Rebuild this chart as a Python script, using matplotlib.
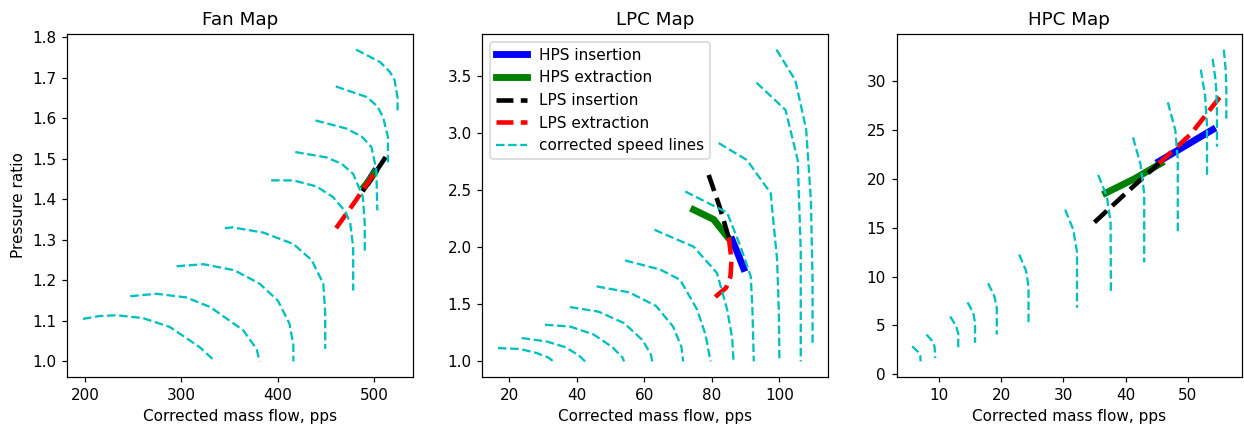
import matplotlib
matplotlib.use("Agg")
import matplotlib.pyplot as plt

# ---------------- Fan map data ----------------
fan_speed_w = [
    [198, 215, 233, 260, 288, 319, 335],
    [247, 274, 305, 330, 364, 378, 381],
    [295, 323, 355, 381, 400, 412, 416, 416],
    [345, 353, 385, 416, 435, 447, 449, 449],
    [393, 416, 440, 457, 470, 475, 478, 478],
    [418, 450, 466, 478, 488, 490, 490],
    [439, 471, 487, 497, 502, 503],
    [460, 492, 503, 509, 514, 514],
    [481, 506, 516, 521, 524, 524],
]
fan_speed_pr = [
    [1.105, 1.112, 1.114, 1.107, 1.085, 1.035, 1.000],
    [1.161, 1.167, 1.158, 1.134, 1.077, 1.030, 1.000],
    [1.235, 1.240, 1.225, 1.192, 1.150, 1.093, 1.040, 1.000],
    [1.329, 1.331, 1.318, 1.290, 1.250, 1.192, 1.120, 1.031],
    [1.447, 1.447, 1.432, 1.406, 1.370, 1.340, 1.282, 1.175],
    [1.517, 1.504, 1.488, 1.463, 1.406, 1.340, 1.270],
    [1.595, 1.575, 1.555, 1.529, 1.472, 1.373],
    [1.679, 1.653, 1.630, 1.603, 1.554, 1.492],
    [1.770, 1.739, 1.715, 1.694, 1.650, 1.620],
]
fan_hps_ins_w = [494, 500]
fan_hps_ins_pr = [1.445, 1.468]
fan_hps_ext_w = [489.6, 495, 499.9]
fan_hps_ext_pr = [1.432, 1.448, 1.465]
fan_lps_ins_w = [487.8, 500, 512]
fan_lps_ins_pr = [1.420, 1.463, 1.506]
fan_lps_ext_w = [460.3, 480, 499.9]
fan_lps_ext_pr = [1.329, 1.395, 1.465]

# ---------------- LPC map data ----------------
lpc_speed_w = [
    [16.7, 23.2, 28.1, 31.5, 33.1],
    [23.7, 31.1, 36.5, 40.5, 42.5],
    [30.6, 38.0, 45.0, 50.5, 53.5, 54.0],
    [38.0, 46.5, 54.0, 59.5, 62.0, 62.3],
    [45.9, 55.5, 63.5, 68.5, 71.0, 71.5],
    [54.3, 64.7, 70.6, 75.6, 78.1, 79.6],
    [63.0, 74.6, 81.5, 84.5, 86.0, 86.4],
    [72.1, 84.5, 88.5, 91.5, 92.0, 92.4],
    [82.0, 90.4, 97.4, 99.3, 99.8, 100.0],
    [93.2, 101.8, 105.4, 106.3, 106.3],
    [99.1, 104.7, 107.9, 109.3, 109.8, 109.8],
]
lpc_speed_pr = [
    [1.111, 1.103, 1.068, 1.030, 0.994],
    [1.199, 1.169, 1.120, 1.050, 0.994],
    [1.316, 1.300, 1.230, 1.120, 1.030, 0.994],
    [1.471, 1.430, 1.330, 1.180, 1.050, 0.994],
    [1.652, 1.600, 1.480, 1.300, 1.120, 0.994],
    [1.880, 1.800, 1.710, 1.450, 1.230, 0.994],
    [2.149, 2.000, 1.770, 1.450, 1.200, 0.994],
    [2.485, 2.300, 2.000, 1.740, 1.450, 0.994],
    [2.910, 2.760, 2.470, 1.886, 1.450, 0.994],
    [3.440, 3.200, 2.760, 1.970, 0.994],
    [3.730, 3.460, 3.030, 2.410, 1.700, 1.140],
]
lpc_hps_ins_w = [86.0, 87.8, 89.4]
lpc_hps_ins_pr = [2.06, 1.93, 1.81]
lpc_hps_ext_w = [74.6, 80.5, 84.5]
lpc_hps_ext_pr = [2.325, 2.24, 2.09]
lpc_lps_ins_w = [79.05, 82.3, 85.0]
lpc_lps_ins_pr = [2.63, 2.35, 2.08]
lpc_lps_ext_w = [85.0, 85.8, 85.5, 84.2, 81.0]
lpc_lps_ext_pr = [2.08, 1.886, 1.74, 1.64, 1.56]

# ---------------- HPC map data ----------------
hpc_speed_w = [
    [5.7, 6.6, 7.0, 7.05],
    [8.0, 8.9, 9.3, 9.4],
    [11.8, 12.7, 13.1, 13.1],
    [14.6, 15.5, 15.8, 15.8],
    [17.9, 18.9, 19.3, 19.3],
    [22.9, 24.0, 24.4, 24.4],
    [30.3, 31.6, 32.2, 32.2],
    [35.6, 37.0, 37.6, 37.65],
    [41.2, 42.4, 43.0, 43.0],
    [46.8, 48.0, 48.4, 48.4],
    [52.1, 52.8, 53.1, 53.1],
    [54.0, 54.5, 54.7, 54.7],
    [55.8, 56.1, 56.2, 56.2],
]
hpc_speed_pr = [
    [2.85, 2.3, 1.9, 1.3],
    [4.05, 3.4, 2.8, 1.65],
    [5.9, 5.0, 4.2, 2.7],
    [7.35, 6.3, 5.3, 3.2],
    [9.3, 8.0, 6.8, 4.05],
    [12.25, 10.6, 9.0, 5.07],
    [16.85, 14.8, 12.5, 6.8],
    [20.4, 18.2, 15.5, 8.3],
    [24.25, 21.5, 18.5, 11.45],
    [27.85, 25.0, 22.0, 14.45],
    [31.2, 28.5, 25.5, 20.3],
    [32.3, 30.0, 27.5, 23.3],
    [33.25, 31.2, 29.5, 26.15],
]
hpc_hps_ins_w = [45.4, 54.0]
hpc_hps_ins_pr = [21.8, 25.05]
hpc_hps_ext_w = [36.8, 41.4, 45.7]
hpc_hps_ext_pr = [18.55, 20.0, 21.6]
hpc_lps_ins_w = [35.0, 40.5, 45.4]
hpc_lps_ins_pr = [15.55, 18.8, 21.6]
hpc_lps_ext_w = [45.4, 50.5, 55.25]
hpc_lps_ext_pr = [21.6, 24.6, 28.45]

W, H = 1244, 429
DPI = 110
fig = plt.figure(figsize=(W / DPI, H / DPI), dpi=DPI)


def make_axes(left_px, right_px):
    return fig.add_axes([left_px / W, (H - 377) / H,
                         (right_px - left_px) / W, 343 / H])


def draw(ax, speed_w, speed_pr, hi_w, hi_pr, he_w, he_pr, li_w, li_pr, le_w, le_pr):
    ax.plot(hi_w, hi_pr, color='b', lw=4.5, label='HPS insertion')
    ax.plot(he_w, he_pr, color='g', lw=4.5, label='HPS extraction')
    ax.plot(li_w, li_pr, color='k', lw=3, ls='--', label='LPS insertion')
    ax.plot(le_w, le_pr, color='r', lw=3, ls='--', label='LPS extraction')
    for i, (w, pr) in enumerate(zip(speed_w, speed_pr)):
        ax.plot(w, pr, color='c', lw=1.5, ls='--',
                label='corrected speed lines' if i == 0 else '_nolegend_')
    ax.set_xlabel('Corrected mass flow, pps')


ax1 = make_axes(67.3, 413.3)
draw(ax1, fan_speed_w, fan_speed_pr, fan_hps_ins_w, fan_hps_ins_pr,
     fan_hps_ext_w, fan_hps_ext_pr, fan_lps_ins_w, fan_lps_ins_pr,
     fan_lps_ext_w, fan_lps_ext_pr)
ax1.set_title('Fan Map')
ax1.set_ylabel('Pressure ratio')

ax2 = make_axes(482.3, 828.3)
draw(ax2, lpc_speed_w, lpc_speed_pr, lpc_hps_ins_w, lpc_hps_ins_pr,
     lpc_hps_ext_w, lpc_hps_ext_pr, lpc_lps_ins_w, lpc_lps_ins_pr,
     lpc_lps_ext_w, lpc_lps_ext_pr)
ax2.set_title('LPC Map')
ax2.legend(loc='upper left')

ax3 = make_axes(896.5, 1242)
draw(ax3, hpc_speed_w, hpc_speed_pr, hpc_hps_ins_w, hpc_hps_ins_pr,
     hpc_hps_ext_w, hpc_hps_ext_pr, hpc_lps_ins_w, hpc_lps_ins_pr,
     hpc_lps_ext_w, hpc_lps_ext_pr)
ax3.set_title('HPC Map')

fig.savefig('out.png', dpi=DPI)
